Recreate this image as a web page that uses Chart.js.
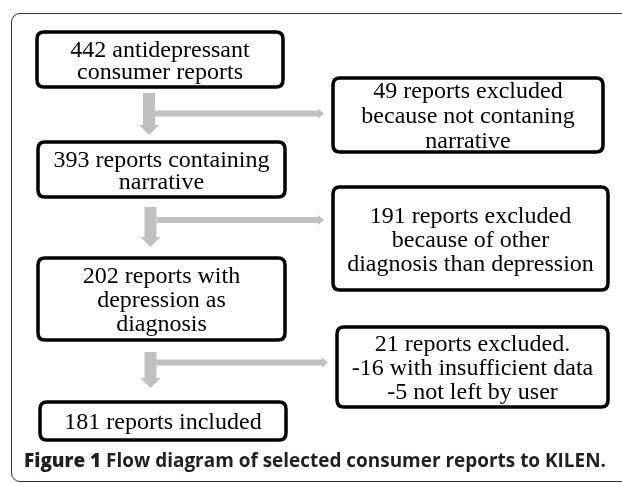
<!DOCTYPE html>
<html>
<head>
<meta charset="utf-8">
<script src="https://cdn.jsdelivr.net/npm/chart.js@4/dist/chart.umd.min.js"></script>
<style>
  html, body { margin: 0; padding: 0; background: #fff; overflow: hidden; }
  #wrap { position: relative; width: 622px; height: 483px; }
  #frame {
    position: absolute; left: 11px; top: 13px; width: 680px; height: 469px;
    border: 1.5px solid #333; border-radius: 9px; box-sizing: border-box;
  }
  #flow { position: absolute; left: 0; top: 0; }
  #caption {
    position: absolute; left: 24px; top: 450px; white-space: nowrap;
    font-family: "Open Sans", sans-serif; font-size: 19px; line-height: 20px;
    color: #231f20; font-weight: 700; transform-origin: 0 0;
  }
  #caption b { font-weight: 800; }
  #preload { font-family: "Liberation Serif"; position: absolute; left: -999px; }
</style>
</head>
<body>
<div id="wrap">
  <div id="frame"></div>
  <canvas id="flow" width="622" height="483"></canvas>
  <div id="caption"><b>Figure 1</b> Flow diagram of selected consumer reports to KILEN.</div>
  <span id="preload">442</span>
</div>
<script>
// --- data: report counts at each step ---
const counts = [442, 49, 393, 191, 202, 21, 181];
const nodeText = [
  ['{n} antidepressant', 'consumer reports'],
  ['{n} reports excluded', 'because not contaning', 'narrative'],
  ['{n} reports containing', 'narrative'],
  ['{n} reports excluded', 'because of other', 'diagnosis than depression'],
  ['{n} reports with', 'depression as', 'diagnosis'],
  ['{n} reports excluded.', '-16 with insufficient data', '-5 not left by user'],
  ['{n} reports included']
];

// --- layout (diagram units, mapped through the chart scales) ---
const nodeX = [160, 468, 161.5, 470.5, 161.5, 472.5, 163];
const nodeY = [59.5, 115, 169.5, 238.5, 299, 367, 421];
const nodeW = [246, 270, 247, 275, 247, 271, 246];
const nodeH = [55, 74, 55, 103, 82, 80, 38];
const lineGap = [22, 25, 22, 24, 24, 24, 24];

// arrows: main flow from -> to, with a branch to the excluded box
const links = [
  { from: 0, to: 2, side: 1, top: 93, tip: 135, branchY: 113.5 },
  { from: 2, to: 4, side: 3, top: 207, tip: 247, branchY: 220 },
  { from: 4, to: 6, side: 5, top: 352, tip: 388, branchY: 362.5 }
];

const GRAY = '#c0c0c0';
const BOX_FONT = '24px "Liberation Serif", "Times New Roman", serif';

function roundRect(ctx, x, y, w, h, r) {
  ctx.beginPath();
  ctx.moveTo(x + r, y);
  ctx.lineTo(x + w - r, y);
  ctx.quadraticCurveTo(x + w, y, x + w, y + r);
  ctx.lineTo(x + w, y + h - r);
  ctx.quadraticCurveTo(x + w, y + h, x + w - r, y + h);
  ctx.lineTo(x + r, y + h);
  ctx.quadraticCurveTo(x, y + h, x, y + h - r);
  ctx.lineTo(x, y + r);
  ctx.quadraticCurveTo(x, y, x + r, y);
  ctx.closePath();
}

const flowPlugin = {
  id: 'flow',
  afterDatasetsDraw(chart) {
    const ctx = chart.ctx;
    const sx = chart.scales.x, sy = chart.scales.y;
    const px = v => sx.getPixelForValue(v);
    const py = v => sy.getPixelForValue(v);

    // arrows first
    ctx.save();
    ctx.fillStyle = GRAY;
    links.forEach(l => {
      const cx = px(nodeX[l.from] - 11);
      const top = py(l.top), tip = py(l.tip);
      const headH = 10, headW = 10, shaft = 6;
      // vertical shaft
      ctx.fillRect(cx - shaft, top, shaft * 2, tip - headH - top);
      ctx.beginPath();
      ctx.moveTo(cx - headW, tip - headH);
      ctx.lineTo(cx + headW, tip - headH);
      ctx.lineTo(cx, tip);
      ctx.closePath();
      ctx.fill();
      // branch to excluded box
      const by = py(l.branchY);
      const endX = px(nodeX[l.side] - nodeW[l.side] / 2 - 9);
      ctx.fillRect(cx + shaft, by - 3, endX - 6 - (cx + shaft), 6);
      ctx.beginPath();
      ctx.moveTo(endX - 6, by - 5);
      ctx.lineTo(endX, by);
      ctx.lineTo(endX - 6, by + 5);
      ctx.closePath();
      ctx.fill();
    });
    ctx.restore();

    // boxes and text
    ctx.save();
    counts.forEach((n, i) => {
      const w = nodeW[i], h = nodeH[i];
      const x0 = px(nodeX[i] - w / 2), y0 = py(nodeY[i] - h / 2);
      const x1 = px(nodeX[i] + w / 2), y1 = py(nodeY[i] + h / 2);
      roundRect(ctx, x0, y0, x1 - x0, y1 - y0, 7);
      ctx.fillStyle = '#fff';
      ctx.fill();
      ctx.lineWidth = 3.5;
      ctx.strokeStyle = '#000';
      ctx.stroke();

      const lines = nodeText[i].map(s => s.replace('{n}', n));
      ctx.fillStyle = '#000';
      ctx.font = BOX_FONT;
      ctx.textAlign = 'center';
      ctx.textBaseline = 'alphabetic';
      const cx = px(nodeX[i]);
      const cy = py(nodeY[i]);
      const g = lineGap[i];
      lines.forEach((s, k) => {
        const base = cy + 8 - (lines.length - 1) * g / 2 + k * g;
        ctx.fillText(s, cx, base);
      });
    });
    ctx.restore();
  }
};

function drawChart() {
  new Chart(document.getElementById('flow'), {
    type: 'scatter',
    data: {
      datasets: [{
        data: counts.map((n, i) => ({ x: nodeX[i], y: nodeY[i] })),
        pointRadius: 0
      }]
    },
    options: {
      responsive: false,
      animation: false,
      layout: { padding: 0 },
      plugins: { legend: { display: false }, tooltip: { enabled: false } },
      scales: {
        x: { type: 'linear', min: 0, max: 622, display: false },
        y: { type: 'linear', min: 0, max: 483, reverse: true, display: false }
      }
    },
    plugins: [flowPlugin]
  });
}

document.fonts.load(BOX_FONT).then(drawChart, drawChart);

// stretch caption to the width it takes in the figure
const cap = document.getElementById('caption');
const capW = cap.getBoundingClientRect().width;
cap.style.transform = 'scaleX(' + (582 / capW) + ')';
</script>
</body>
</html>
